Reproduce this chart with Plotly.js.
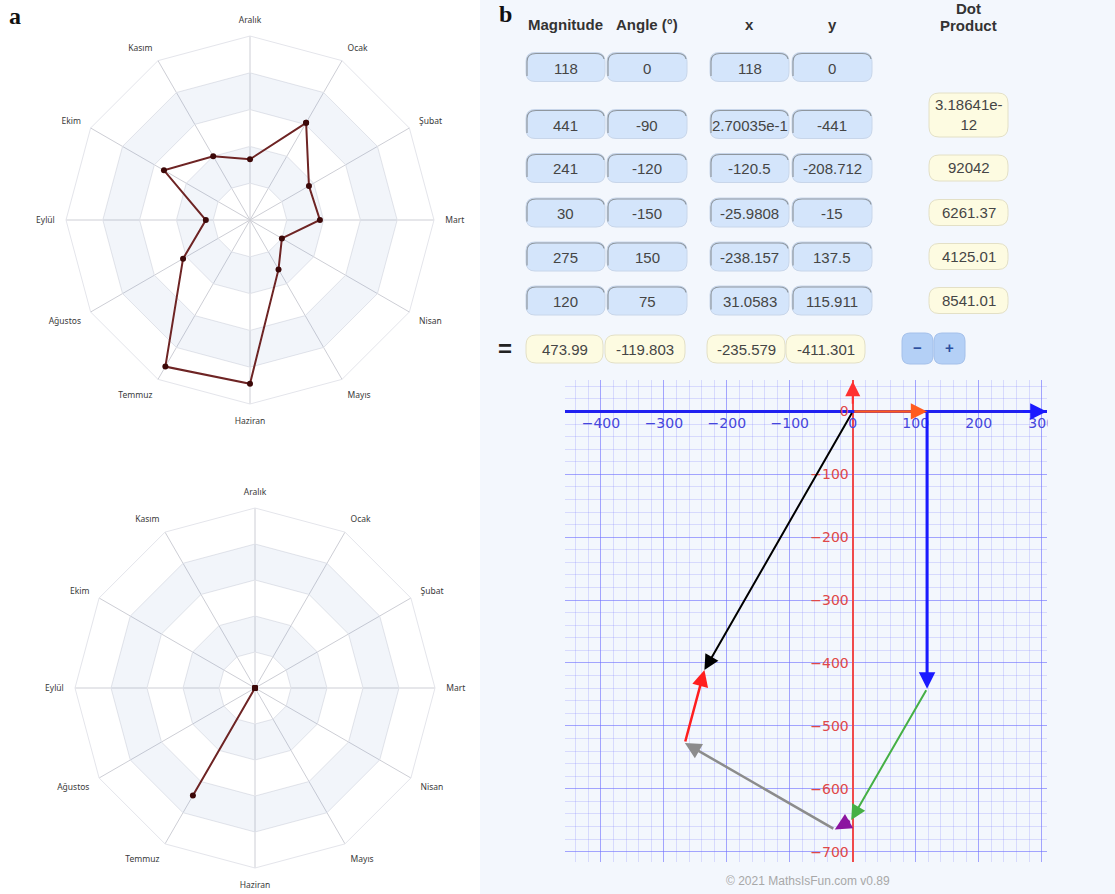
<!DOCTYPE html>
<html>
<head>
<meta charset="utf-8">
<script src="https://cdn.plot.ly/plotly-3.0.1.min.js"></script>
<style>
  html, body { margin: 0; padding: 0; background: #ffffff; }
  #chart { width: 1115px; height: 894px; }
</style>
</head>
<body>
<div id="chart"></div>
<script>
// ---- monthly radar data (Ocak .. Aralık) ----
const months = ['Ocak', 'Şubat', 'Mart', 'Nisan', 'Mayıs', 'Haziran',
                'Temmuz', 'Ağustos', 'Eylül', 'Ekim', 'Kasım', 'Aralık'];
const valuesTop = [61, 37, 38, 20, 31, 89, 92, 42, 24, 54, 40, 33];
const valuesBottom = [0, 0, 0, 0, 0, 0, 69, 0, 0, 0, 0, 0];
const radialTicks = [0, 20, 40, 60, 80, 100];

// ---- vector addition table ----
const magnitudes = [118, 441, 241, 30, 275, 120];
const angles = [0, -90, -120, -150, 150, 75];
const compX = [118, 2.70035e-14, -120.5, -25.9808, -238.157, 31.0583];
const compY = [0, -441, -208.712, -15, 137.5, 115.911];
const compXText = ['118', '2.70035e-1', '-120.5', '-25.9808', '-238.157', '31.0583'];
const compYText = ['0', '-441', '-208.712', '-15', '137.5', '115.911'];
const dotProducts = ['', '3.18641e-<br>12', '92042', '6261.37', '4125.01', '8541.01'];
const resultant = [473.99, -119.803, -235.579, -411.301];   // magnitude, angle, x, y
const headers = ['Magnitude', 'Angle (°)', 'x', 'y'];
const xTicks = [-400, -300, -200, -100, 0, 100, 200, 300];
const yTicks = [0, -100, -200, -300, -400, -500, -600, -700];

// ---- page geometry helpers (pixels -> paper) ----
const W = 1115, H = 894;
const PX = v => v / W;
const PY = v => 1 - v / H;
const PANEL_BG = '#f3f7fd';

function roundRect(x0, y0, x1, y1, r) {
  const p = (x, y) => PX(x) + ',' + PY(y);
  return 'M' + p(x0 + r, y0) + ' L' + p(x1 - r, y0) + ' Q' + p(x1, y0) + ' ' + p(x1, y0 + r) +
         ' L' + p(x1, y1 - r) + ' Q' + p(x1, y1) + ' ' + p(x1 - r, y1) +
         ' L' + p(x0 + r, y1) + ' Q' + p(x0, y1) + ' ' + p(x0, y1 - r) +
         ' L' + p(x0, y0 + r) + ' Q' + p(x0, y0) + ' ' + p(x0 + r, y0) + ' Z';
}

const shapes = [];
const annotations = [];
function label(x, y, text, font) {
  annotations.push({xref: 'paper', yref: 'paper', x: PX(x), y: PY(y), xanchor: 'center', yanchor: 'middle',
    text: text, showarrow: false, font: font});
}

// right panel background
shapes.push({type: 'rect', xref: 'paper', yref: 'paper', layer: 'below',
  x0: PX(480), x1: 1, y0: 0, y1: 1, fillcolor: PANEL_BG, line: {width: 0}});

// panel letters
label(15, 16, '<b>a</b>', {family: 'Liberation Serif', size: 24, color: '#111'});
label(505, 14, '<b>b</b>', {family: 'Liberation Serif', size: 24, color: '#111'});

// ---- radar charts ----
const closed = arr => arr.concat([arr[0]]);
const thetaRing = closed(months);
const thetaBand = thetaRing.concat(thetaRing.slice().reverse());

function bandTrace(subplot, inner, outer) {
  const r = thetaRing.map(() => outer).concat(thetaRing.map(() => inner));
  return {type: 'scatterpolar', subplot: subplot, r: r, theta: thetaBand, mode: 'lines',
    line: {width: 0, color: 'rgba(0,0,0,0)'}, fill: 'toself',
    fillcolor: 'rgba(105,135,200,0.085)', hoverinfo: 'skip', showlegend: false};
}
function dataTrace(subplot, vals) {
  // clipping (rather than range-hiding) keeps the points sitting at r = 0 visible
  return {type: 'scatterpolar', subplot: subplot, r: closed(vals), theta: thetaRing,
    mode: 'lines+markers', cliponaxis: true, line: {color: '#6e2424', width: 2},
    marker: {size: 6, color: '#3c0808'}, hoverinfo: 'skip', showlegend: false};
}

const traces = [];
['polar', 'polar2'].forEach((sp, k) => {
  // shaded rings between alternate radial levels
  traces.push(bandTrace(sp, radialTicks[1], radialTicks[2]));
  traces.push(bandTrace(sp, radialTicks[3], radialTicks[4]));
  traces.push(dataTrace(sp, k === 0 ? valuesTop : valuesBottom));
});

function polarLayout(cx, cy, R) {
  return {
    domain: {x: [PX(cx - R), PX(cx + R)], y: [PY(cy + R), PY(cy - R)]},
    bgcolor: 'rgba(0,0,0,0)',
    gridshape: 'linear',
    angularaxis: {type: 'category', categoryarray: months, direction: 'clockwise', rotation: 60,
      gridcolor: '#cdced5', gridwidth: 1, showline: true, linecolor: '#e4e5eb', linewidth: 1,
      ticks: 'outside', ticklen: 9, tickcolor: 'rgba(0,0,0,0)',
      tickfont: {family: 'Noto Sans', size: 8.5, color: '#3a3a3a'}},
    radialaxis: {range: [0, 100], tickvals: radialTicks, showticklabels: false, ticks: '',
      showline: false, gridcolor: '#e6e7ec', gridwidth: 1}
  };
}

// ---- vector graph (cartesian) ----
const xRange = [-457, 308], yRange = [-716, 50];
const xDom = [PX(565), PX(1046.7)], yDom = [PY(861.7), PY(380)];
const xZeroPos = xDom[0] + (0 - xRange[0]) / (xRange[1] - xRange[0]) * (xDom[1] - xDom[0]);
const yZeroPos = yDom[0] + (0 - yRange[0]) / (yRange[1] - yRange[0]) * (yDom[1] - yDom[0]);

const vecColors = ['#ff5a1e', '#1a1aff', '#45b045', '#8c14a0', '#8c8c8c', '#ff1e1e'];
const vecWidths = [2.5, 3, 2, 3, 2.5, 2.5];
const vecHeads = [1.3, 1.1, 1.5, 1.1, 1.3, 1.3];

function arrow(x, y, ax, ay, color, width, size) {
  annotations.push({xref: 'x', yref: 'y', axref: 'x', ayref: 'y', x: x, y: y, ax: ax, ay: ay,
    text: '', showarrow: true, arrowhead: 2, arrowsize: size, arrowwidth: width,
    arrowcolor: color, standoff: 0});
}

// axis arrow tips
arrow(xRange[1], 0, xRange[1] - 40, 0, '#1a1aff', 3, 1.1);
arrow(0, yRange[1] - 2, 0, yRange[1] - 40, '#ff3030', 2, 1.5);

// head-to-tail vectors
let cx = 0, cy = 0;
compX.forEach((vx, i) => {
  const nx = cx + vx, ny = cy + compY[i];
  arrow(nx, ny, cx, cy, vecColors[i], vecWidths[i], vecHeads[i]);
  cx = nx; cy = ny;
});
// resultant
arrow(resultant[2], resultant[3], 0, 0, '#000000', 2, 1.5);

// clip the last x tick label at the graph edge
shapes.push({type: 'rect', xref: 'paper', yref: 'paper', layer: 'above',
  x0: PX(1047.5), x1: 1, y0: PY(440), y1: PY(402), fillcolor: PANEL_BG, line: {width: 0}});

label(808, 881, '© 2021 MathsIsFun.com v0.89', {family: 'Liberation Sans', size: 12, color: '#a8a8a8'});

// ---- table ----
const colX = [[526, 605], [607, 687], [710, 789], [792, 872]];
const dotX = [929, 1008];
const rowY = [67, 124, 168, 212.5, 256.5, 300.5];
const sumY = 349;
const cellFont = {family: 'Liberation Sans', size: 15, color: '#454545'};
const headFont = {family: 'Liberation Sans', size: 15, color: '#333'};

headers.forEach((h, j) => label((colX[j][0] + colX[j][1]) / 2, 25, '<b>' + h + '</b>', headFont));
label(968, 8, '<b>Dot</b>', headFont);
label(968, 26, '<b>Product</b>', headFont);

function inputBox(x0, x1, yc, txt) {
  shapes.push({type: 'path', xref: 'paper', yref: 'paper', layer: 'below',
    path: roundRect(x0, yc - 14.5, x1, yc + 14.5, 9), fillcolor: '#d4e5fb', line: {color: '#c8d6ea', width: 1}});
  // darker inset edge along the top-left
  const p = (x, y) => PX(x) + ',' + PY(y);
  shapes.push({type: 'path', xref: 'paper', yref: 'paper', layer: 'below',
    path: 'M' + p(x0 + 1, yc + 9) + ' L' + p(x0 + 1, yc - 5.5) + ' Q' + p(x0 + 1, yc - 13.5) + ' ' + p(x0 + 10, yc - 13.5) +
          ' L' + p(x1 - 10, yc - 13.5) + ' Q' + p(x1 - 2, yc - 13.5) + ' ' + p(x1 - 1, yc - 8),
    line: {color: '#8f979f', width: 1.2}});
  label((x0 + x1) / 2, yc + 1, txt, cellFont);
}
function resultBox(x0, x1, y0, y1, txt) {
  shapes.push({type: 'path', xref: 'paper', yref: 'paper', layer: 'below',
    path: roundRect(x0, y0, x1, y1, 10), fillcolor: '#fdfbe1', line: {color: '#e3e0c6', width: 1}});
  label((x0 + x1) / 2, (y0 + y1) / 2, txt, cellFont);
}

rowY.forEach((yc, i) => {
  inputBox(colX[0][0], colX[0][1], yc, String(magnitudes[i]));
  inputBox(colX[1][0], colX[1][1], yc, String(angles[i]));
  inputBox(colX[2][0], colX[2][1], yc, compXText[i]);
  inputBox(colX[3][0], colX[3][1], yc, compYText[i]);
  if (dotProducts[i]) {
    if (i === 1) resultBox(dotX[0], dotX[1], 93, 137, dotProducts[i]);
    else resultBox(dotX[0], dotX[1], yc - 13, yc + 13, dotProducts[i]);
  }
});

const sumX = [[526, 603], [605, 685], [707, 785], [786, 865]];
resultant.forEach((v, j) => resultBox(sumX[j][0], sumX[j][1], sumY - 14, sumY + 14, String(v)));

label(505, 348, '<b>=</b>', {family: 'Liberation Sans', size: 24, color: '#222'});

// − / + buttons
[['−', 902, 933], ['+', 934, 965]].forEach(b => {
  shapes.push({type: 'path', xref: 'paper', yref: 'paper', layer: 'below',
    path: roundRect(b[1], 333, b[2], 364, 8), fillcolor: '#b4d0f6', line: {color: '#a4c0ea', width: 1}});
  label((b[1] + b[2]) / 2, 347, '<b>' + b[0] + '</b>', {family: 'Liberation Sans', size: 15, color: '#2c4f9e'});
});

const layout = {
  width: W, height: H,
  margin: {l: 0, r: 0, t: 0, b: 0, pad: 0},
  paper_bgcolor: '#ffffff',
  plot_bgcolor: 'rgba(0,0,0,0)',
  font: {family: 'Liberation Sans'},
  showlegend: false,
  polar: polarLayout(250, 220, 184),
  polar2: polarLayout(255, 688, 180),
  xaxis: {domain: xDom, range: xRange, anchor: 'free', position: yZeroPos, fixedrange: true,
    tickvals: xTicks, ticks: '', showline: false, ticklabelstandoff: 2,
    tickfont: {family: 'DejaVu Sans', size: 14, color: '#4646dc'},
    showgrid: true, gridcolor: 'rgba(110,110,255,0.5)', gridwidth: 1,
    minor: {dtick: 20, showgrid: true, gridcolor: 'rgba(130,130,255,0.25)', gridwidth: 1},
    zeroline: true, zerolinecolor: '#f04a4a', zerolinewidth: 2},
  yaxis: {domain: yDom, range: yRange, anchor: 'free', position: xZeroPos, fixedrange: true,
    tickvals: yTicks, ticks: '', showline: false, ticklabelstandoff: 4,
    tickfont: {family: 'DejaVu Sans', size: 14, color: '#e04848'},
    showgrid: true, gridcolor: 'rgba(110,110,255,0.5)', gridwidth: 1,
    minor: {dtick: 20, showgrid: true, gridcolor: 'rgba(130,130,255,0.25)', gridwidth: 1},
    zeroline: true, zerolinecolor: '#2020f0', zerolinewidth: 3},
  shapes: shapes,
  annotations: annotations
};

// an invisible trace keeps the cartesian subplot active
traces.push({type: 'scatter', x: [0], y: [0], mode: 'markers', marker: {opacity: 0}, hoverinfo: 'skip', showlegend: false});

Plotly.newPlot('chart', traces, layout, {staticPlot: true, displayModeBar: false});
</script>
</body>
</html>
